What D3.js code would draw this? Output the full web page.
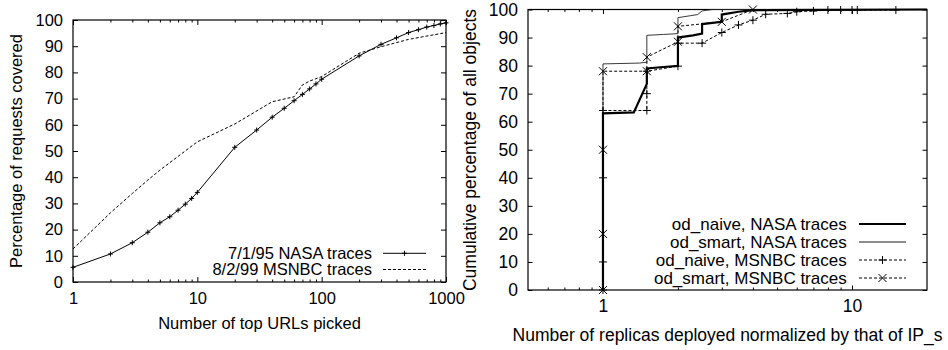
<!DOCTYPE html>
<html><head><meta charset="utf-8">
<script src="https://cdn.jsdelivr.net/npm/d3@7"></script>
<style>
body{margin:0;background:#fff}
svg{display:block}
text{font-family:"Liberation Sans",Arial,Helvetica,sans-serif;fill:#000}
</style>
</head><body>
<svg id="c" width="948" height="350"></svg>
<script>
// ---------- Left chart data ----------
const leftXTicks = [1, 10, 100, 1000];
const leftYTicks = [0,10,20,30,40,50,60,70,80,90,100];
const leftNasaX = [1,2,3,4,5,6,7,8,9,10,20,30,40,50,60,70,80,90,100,200,300,400,500,600,700,800,900,1000];
const leftNasaY = [5.6,10.7,15.0,19.0,22.6,24.9,27.4,29.7,31.9,34.2,51.4,58.0,62.9,66.3,69.2,71.6,73.7,75.6,77.4,86.3,90.7,93.2,95.2,96.3,97.3,97.9,98.5,98.9];
const leftMsnbcX = [1,2,3,4,5,10,20,40,60,70,80,100,200,300,500,1000];
const leftMsnbcY = [12.6,26.4,33.8,38.9,42.7,53.5,60.3,68.8,70.7,75.2,76.7,78.4,87.3,89.8,92.6,95.2];
const leftLegend = ["7/1/95 NASA traces", "8/2/99 MSNBC traces"];

// ---------- Right chart data ----------
const rightXTicks = [1, 10];
const rightYTicks = [0,10,20,30,40,50,60,70,80,90,100];
const nasaNaiveX = [1,1,1.33,1.5,1.5,1.75,2,2,2.3,2.5,2.5,3,3,3.5,4,20];
const nasaNaiveY = [0,63,63.3,73.5,79,79.5,79.9,90,90.8,91.4,94.8,95.6,98.2,99.2,99.8,100];
const nasaSmartX = [1,1,1.4,1.5,1.5,1.75,2,2,2.25,2.4,2.5,2.75,20];
const nasaSmartY = [0,80.6,80.9,81.2,90.8,91.1,91.4,97.1,97.8,98.2,99.5,100,100];
const msnbcNaiveX = [1,1,1,1,1.5,1.5,1.5,2,2,2.5,3,3.5,4,4.5,5.5,6,7,8,9,10,10.5,15];
const msnbcNaiveY = [0,10,40,64,64,70,78,79.8,88,88,91.8,94.5,96.2,98.3,98.6,99.2,99.5,99.8,99.8,99.8,99.8,99.8];
const msnbcSmartX = [1,1,1,1,1.5,1.5,2,2,3,4];
const msnbcSmartY = [0,20,50,78,78,83,88.5,94,95.6,100];
const rightLegend = ["od_naive, NASA traces","od_smart, NASA traces","od_naive, MSNBC traces","od_smart, MSNBC traces"];

const svg = d3.select("#c");
const zip = (xs, ys) => xs.map((x,i)=>[x, ys[i]]);

function logMinors(domain){
  const out=[]; const lo=Math.floor(Math.log10(domain[0])), hi=Math.ceil(Math.log10(domain[1]));
  for(let e=lo;e<hi;e++) for(let m=2;m<=9;m++){const v=m*Math.pow(10,e); if(v>domain[0]+1e-9 && v<domain[1]-1e-9) out.push(v);}
  return out;
}

function drawFrame(g, x, y, xt, yt, fs, maj, mnr){
  const [x0,x1]=x.range(), [yb,yt0]=y.range();
  const clean = s => { s.select(".domain").remove(); s.selectAll("line").attr("stroke","#000"); s.attr("font-family",null).attr("font-size",fs); };
  g.append("g").attr("transform",`translate(0,${yb})`)
    .call(d3.axisBottom(x).tickValues(xt).tickSize(-maj).tickPadding(10).tickFormat(d3.format("d"))).call(clean);
  g.append("g").attr("transform",`translate(0,${yb})`)
    .call(d3.axisBottom(x).tickValues(logMinors(x.domain())).tickSize(-mnr).tickFormat("")).call(clean);
  g.append("g").attr("transform",`translate(0,${yt0})`)
    .call(d3.axisTop(x).tickValues(xt).tickSize(-maj).tickFormat("")).call(clean);
  g.append("g").attr("transform",`translate(0,${yt0})`)
    .call(d3.axisTop(x).tickValues(logMinors(x.domain())).tickSize(-mnr).tickFormat("")).call(clean);
  g.append("g").attr("transform",`translate(${x0},0)`)
    .call(d3.axisLeft(y).tickValues(yt).tickSize(-maj).tickPadding(10)).call(clean);
  g.append("g").attr("transform",`translate(${x1},0)`)
    .call(d3.axisRight(y).tickValues(yt).tickSize(-maj).tickFormat("")).call(clean);
  g.append("rect").attr("x",x0).attr("y",yt0).attr("width",x1-x0).attr("height",yb-yt0)
    .attr("fill","none").attr("stroke","#000").attr("stroke-width",1.2);
}

const plusPath = r => `M${-r},0H${r}M0,${-r}V${r}`;
const crossPath = r => `M${-r},${-r}L${r},${r}M${-r},${r}L${r},${-r}`;

// ================= LEFT CHART =================
{
  const fs = 16.5;
  const x = d3.scaleLog().domain([1,1000]).range([73,446]);
  const y = d3.scaleLinear().domain([0,100]).range([282,20]);
  const g = svg.append("g");
  drawFrame(g, x, y, leftXTicks, leftYTicks, fs, 5, 2.5);
  const line = d3.line().x(d=>x(d[0])).y(d=>y(d[1]));
  const nasa = zip(leftNasaX, leftNasaY), ms = zip(leftMsnbcX, leftMsnbcY);
  g.append("path").attr("d",line(ms)).attr("fill","none").attr("stroke","#000").attr("stroke-width",1).attr("stroke-dasharray","3,2");
  g.append("path").attr("d",line(nasa)).attr("fill","none").attr("stroke","#000").attr("stroke-width",1);
  g.selectAll(".pn").data(nasa).join("path").attr("transform",d=>`translate(${x(d[0])},${y(d[1])})`)
    .attr("d",plusPath(2.5)).attr("stroke","#000").attr("stroke-width",1);
  g.append("text").attr("x",(73+446)/2).attr("y",329).attr("text-anchor","middle").attr("font-size",fs).text("Number of top URLs picked");
  g.append("text").attr("transform",`translate(22,151) rotate(-90)`).attr("text-anchor","middle").attr("font-size",fs).text("Percentage of requests covered");
  const ly=[253.3,269.5];
  leftLegend.forEach((t,i)=>{
    g.append("text").attr("x",372).attr("y",ly[i]).attr("dy","0.35em").attr("text-anchor","end").attr("font-size",fs).text(t);
    const s = g.append("line").attr("x1",383).attr("x2",426).attr("y1",ly[i]).attr("y2",ly[i]).attr("stroke","#000").attr("stroke-width",1);
    if(i===1) s.attr("stroke-dasharray","3,2");
    else g.append("path").attr("transform",`translate(404.5,${ly[i]})`).attr("d",plusPath(2.5)).attr("stroke","#000");
  });
}

// ================= RIGHT CHART =================
{
  const fs = 17.5, lfs = 17;
  const x = d3.scaleLog().domain([0.5,20]).range([528,927]);
  const y = d3.scaleLinear().domain([0,100]).range([290,9.5]);
  const g = svg.append("g");
  drawFrame(g, x, y, rightXTicks, rightYTicks, fs, 4.5, 2.5);
  const line = d3.line().x(d=>x(d[0])).y(d=>y(d[1]));
  const nn = zip(nasaNaiveX,nasaNaiveY), ns = zip(nasaSmartX,nasaSmartY);
  const mn = zip(msnbcNaiveX,msnbcNaiveY), mss = zip(msnbcSmartX,msnbcSmartY);
  g.append("path").attr("d",line(mn)).attr("fill","none").attr("stroke","#000").attr("stroke-width",1).attr("stroke-dasharray","3,2");
  g.append("path").attr("d",line(mss)).attr("fill","none").attr("stroke","#000").attr("stroke-width",1).attr("stroke-dasharray","3,2");
  g.append("path").attr("d",line(ns)).attr("fill","none").attr("stroke","#222").attr("stroke-width",0.9);
  g.append("path").attr("d",line(nn)).attr("fill","none").attr("stroke","#000").attr("stroke-width",2.2);
  g.selectAll(".mp").data(mn).join("path").attr("transform",d=>`translate(${x(d[0])},${y(d[1])})`)
    .attr("d",plusPath(4)).attr("stroke","#000").attr("stroke-width",1);
  g.selectAll(".mx").data(mss).join("path").attr("transform",d=>`translate(${x(d[0])},${y(d[1])})`)
    .attr("d",crossPath(4)).attr("stroke","#000").attr("stroke-width",1);
  g.append("text").attr("x",(528+927)/2).attr("y",341).attr("text-anchor","middle").attr("font-size",fs).text("Number of replicas deployed normalized by that of IP_s");
  g.append("text").attr("transform",`translate(476,150) rotate(-90)`).attr("text-anchor","middle").attr("font-size",fs).text("Cumulative percentage of all objects");
  const ly=[224,242,260,278];
  rightLegend.forEach((t,i)=>{
    g.append("text").attr("x",846.7).attr("y",ly[i]).attr("dy","0.35em").attr("text-anchor","end").attr("font-size",lfs).text(t);
    const s = g.append("line").attr("x1",859).attr("x2",906).attr("y1",ly[i]).attr("y2",ly[i]).attr("stroke","#000")
      .attr("stroke-width", i===0?2.2:(i===1?0.9:1));
    if(i>=2){
      s.attr("stroke-dasharray","3,2");
      g.append("path").attr("transform",`translate(882.5,${ly[i]})`).attr("d", i===2?plusPath(4):crossPath(4)).attr("stroke","#000");
    }
  });
}
</script>
</body></html>
